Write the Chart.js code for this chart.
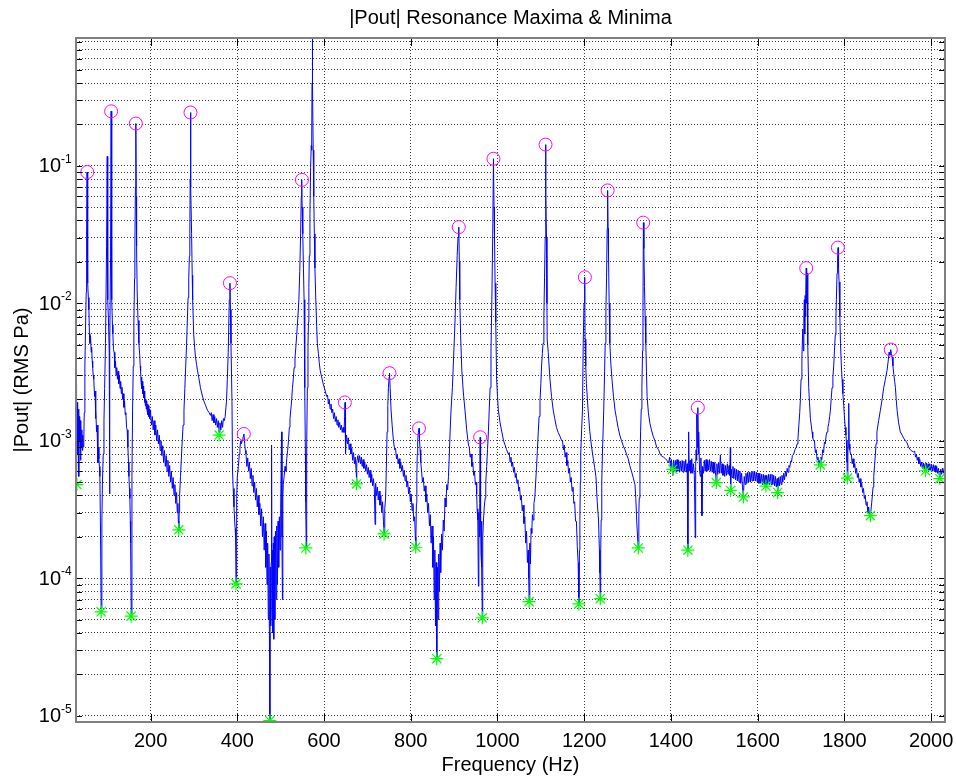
<!DOCTYPE html>
<html>
<head>
<meta charset="utf-8">
<title>|Pout| Resonance Maxima &amp; Minima</title>
<script src="https://cdn.jsdelivr.net/npm/chart.js@4.4.1/dist/chart.umd.min.js"></script>
<style>
  html, body { margin: 0; padding: 0; background: #fff; }
  #wrap { width: 956px; height: 778px; position: relative; }
</style>
</head>
<body>
<div id="wrap"><canvas id="pout-chart"></canvas></div>
<script>
// |Pout| spectrum: [frequency Hz, magnitude RMS Pa]
const poutTrace = [
  [27.5,5.0e-3],[28,1.5e-3],[28.5,2.6e-3],[29,9e-4],[29.5,2.2e-3],[30,5.5e-4],[30.5,1.9e-3],[31,1.0e-3],[31.5,1.8e-3],[32,8e-4],
  [32.5,1.6e-3],[33,1.1e-3],[34,1.7e-3],[34.7,5.5e-4],[35.5,1.5e-3],[36.5,1.0e-3],[37.5,1.4e-3],[38.5,7.2e-4],[39.5,1.3e-3],[40.5,9e-4],
  [41.5,1.2e-3],[42.5,8.5e-4],[43.5,1.1e-3],[44.5,9e-4],[46,1.0e-3],[47,1.6e-3],[48.5,3.5e-3],[50,6.5e-3],[51.5,0.012],[52.5,0.03],
  [53.5,0.09],[54.5,0.035],[55.4,0.014],[56.5,0.011],[57.7,9e-3],[59,6e-3],[60,5.1e-3],[61.5,5.8e-3],[63,4.4e-3],[64,4.8e-3],
  [65.4,3.8e-3],[66.5,3.4e-3],[67.7,3.0e-3],[69,2.8e-3],[70.8,2.1e-3],[72,2.3e-3],[73,1.45e-3],[74,1.7e-3],[75.4,1.16e-3],[76.5,1.3e-3],
  [78.5,6.9e-4],[79.5,9e-4],[80.8,7.4e-4],[82,6.5e-4],[83,5.5e-4],[84.6,2.1e-4],[86,6e-5],[87.7,2.6e-4],[89,5e-4],[90.8,8e-4],
  [92.5,1.4e-3],[94,2.4e-3],[96,5.1e-3],[98.5,0.026],[100,0.117],[100.8,0.03],[101.6,0.0106],[103,7.3e-3],[104.6,4.4e-3],[105.4,4.1e-4],
  [106.2,5e-3],[107.7,0.022],[109,0.25],[110,0.04],[110.8,0.0106],[112,7e-3],
  [113,6.0e-3],[114.5,4.6e-3],[116,4.4e-3],[117.5,3.4e-3],[119,3.8e-3],[120.5,3.0e-3],[122,3.4e-3],[123.5,2.8e-3],[125,3.2e-3],[126.5,2.6e-3],
  [128,3.0e-3],[129.5,2.4e-3],[131,2.7e-3],[132.5,2.2e-3],[134,2.45e-3],[135.5,2.0e-3],[137,2.2e-3],[138.5,1.75e-3],[140,1.95e-3],[141.5,1.55e-3],
  [143,1.6e-3],[144.6,1.25e-3],[146,1.2e-3],[147.7,9e-4],[149,7e-4],[150,5.5e-4],[151.2,4.5e-4],[152.3,3.8e-4],[153.2,2.6e-4],[154,1.8e-4],
  [155.4,5.5e-5],[157,5.5e-4],[158.5,1.67e-3],[160,3.5e-3],[161.5,7.3e-3],[163,0.015],[163.8,0.026],[165,0.07],[166,0.203],[167,0.06],
  [167.7,0.026],[169,0.0123],[171,7.5e-3],[173,5.1e-3],[175,4.2e-3],[176,3.5e-3],[177,3.2e-3],[178,2.7e-3],[179,2.9e-3],[180,2.4e-3],
  [181,2.7e-3],[182,2.2e-3],[183,2.5e-3],[184,2.05e-3],[185,2.3e-3],[186,1.9e-3],[187,2.15e-3],[188,1.8e-3],[189,2.0e-3],[190,1.7e-3],
  [191,1.95e-3],[192,1.65e-3],[193,1.85e-3],[194,1.55e-3],[195,1.8e-3],[196,1.5e-3],[197,1.7e-3],[198,1.45e-3],[199,1.65e-3],
  [200,1.6e-3],[202,1.3e-3],[204,1.5e-3],[206,1.2e-3],[208,1.4e-3],[210,1.1e-3],[212,1.3e-3],[214,1.0e-3],[216,1.2e-3],[218,9.5e-4],
  [220,1.1e-3],[222,8.5e-4],[224,1.0e-3],[226,7.8e-4],[228,9.2e-4],[230,7.0e-4],[232,8.5e-4],[234,6.5e-4],[236,7.8e-4],[238,6.0e-4],
  [240,7.2e-4],[242,5.5e-4],[244,6.6e-4],[246,5.0e-4],[248,6.0e-4],[250,4.5e-4],[252,5.4e-4],[254,4.0e-4],[256,4.8e-4],[258,3.5e-4],
  [260,4.2e-4],[261.5,3.0e-4],[263,3.5e-4],[264,2.6e-4],[265,2.3e-4],[266,3.0e-4],[267,4.0e-4],
  [269,5.5e-4],[271,7.5e-4],[273,1.0e-3],[275,1.3e-3],[277,1.67e-3],[279,2.4e-3],[281,3.5e-3],[283,5.0e-3],[284.6,7.3e-3],[286.5,0.011],
  [288,0.0153],[289.5,0.022],[290.5,0.032],[291.3,0.08],[292,0.244],[293,0.07],[294.6,0.032],[296,0.016],[297,0.0106],[299.5,5.9e-3],
  [301.5,4.8e-3],[303.5,4.06e-3],[306,3.6e-3],[308,3.26e-3],[311,2.9e-3],[315,2.43e-3],[319,2.15e-3],[323,1.94e-3],[327,1.8e-3],[331,1.67e-3],
  [335,1.6e-3],[338,1.53e-3],
  [340,1.6e-3],[342,1.4e-3],[344,1.55e-3],[346,1.35e-3],[348,1.5e-3],[350,1.3e-3],[352,1.45e-3],[354,1.25e-3],[356,1.4e-3],[358,1.15e-3],
  [360,1.35e-3],[362,1.2e-3],[364,1.4e-3],[366,1.25e-3],[368,1.45e-3],[370,1.4e-3],[372,1.5e-3],[375,1.94e-3],[377,2.8e-3],[379,4.4e-3],
  [381.5,0.0106],[383,0.014],[384.2,0.009],[385.4,5.1e-3],[387.7,1.94e-3],[389,6e-4],[390.5,4.5e-4],[392.3,3.3e-4],[393.8,2.65e-4],[395,2.3e-4],
  [396,1.97e-4],[397,9.1e-5],[398.5,3.8e-4],[400,5.5e-4],[402.5,6.5e-4],[404.6,8e-4],[406,8.8e-4],[407.7,1e-3],[409.5,9.5e-4],[411,1.0e-3],
  [413,1.05e-3],[415.4,1.12e-3],[417,9.5e-4],[418.5,8.5e-4],
  [420,8e-4],[422,6.5e-4],[424,7.5e-4],[426,6e-4],[428,7e-4],[430,5.3e-4],[432,6.3e-4],[434,4.7e-4],[436,5.6e-4],[438,4.2e-4],
  [440,5e-4],[442,3.7e-4],[444,4.5e-4],[446,3.3e-4],[448,4.0e-4],[450,2.9e-4],[452,3.5e-4],[454,2.4e-4],[456,3.2e-4],[458,2.0e-4],
  [460,2.8e-4],[462,1.6e-4],[464,2.5e-4],[465.5,1.2e-4],[467,2.2e-4],[468.5,9e-5],[470,1.8e-4],[471.5,5e-5],[473,1.5e-4],[474,4e-5],
  [475,9.2e-6],[476,1.2e-4],[477,4.5e-5],[478,1.3e-4],[479,9.3e-4],[480,6e-5],[481,1.6e-4],[482,4e-5],[483,1.8e-4],[484,3.6e-5],
  [485,2.0e-4],[486.5,5e-5],[488,2.2e-4],[489.5,7e-5],[491,2.4e-4],[492.5,9e-5],[494,2.6e-4],[495.5,1.2e-4],[497,2.8e-4],[498.5,1.6e-4],
  [500,3.2e-4],[502,1.16e-3],[503,2.0e-4],[504,7e-5],[505,4e-4],[506,4.8e-4],[508,5.5e-4],[510,6.5e-4],[512,6e-4],[514,7.4e-4],
  [516,8.5e-4],[518,1.0e-3],[520,1.25e-3],[521.5,1.45e-3],[523.5,1.7e-3],[525.5,2.0e-3],[527,2.4e-3],[529,2.8e-3],[531,3.4e-3],[533,4.0e-3],
  [535,4.8e-3],[537,5.9e-3],[539.5,7.8e-3],[542,0.0106],[544,0.017],[546,0.032],[547.5,0.06],[548.5,0.079],[549.5,0.05],[551,0.032],
  [552.5,0.018],[554,0.0106],[555,5e-3],[556,2.43e-3],[557,8e-4],[557.6,3.6e-4],[559,1.66e-4],[560,9e-4],[561.5,2.43e-3],[563,4.8e-3],
  [564,7.3e-3],[565,0.013],[566,0.0222],[567.5,0.045],[569,0.097],[570.5,0.14],[571.5,0.13],[572.3,0.4],[573,1.5],[573.7,0.4],
  [575,0.13],[576.3,0.06],[577.6,0.032],[579,0.018],[581,0.0106],[583,6.8e-3],[584.6,5.1e-3],[587,4.3e-3],[589,3.7e-3],[591,3.26e-3],
  [594,2.95e-3],[598,2.6e-3],[602,2.35e-3],[606,2.1e-3],
  [608,2.15e-3],[610,1.85e-3],[612,2.0e-3],[614,1.7e-3],[616,1.85e-3],[618,1.6e-3],[620,1.7e-3],[622,1.45e-3],[624,1.6e-3],[626,1.38e-3],
  [628,1.5e-3],[630,1.3e-3],[632,1.42e-3],[634,1.25e-3],[636,1.36e-3],[638,1.2e-3],[640,1.3e-3],[642,1.15e-3],[644,1.25e-3],[646,1.15e-3],
  [647.5,1.5e-3],[648.4,1.9e-3],[649.2,1.2e-3],[650,8e-4],[651,1.1e-3],[652,1.08e-3],
  [654,9.5e-4],[656,1.05e-3],[658,8.6e-4],[660,9.5e-4],[662,8.0e-4],[664,8.8e-4],[666,7.2e-4],[668,8.2e-4],[670,6.8e-4],[672,7.6e-4],
  [674,6.0e-4],[675,4.85e-4],[676,7.0e-4],[678,7.8e-4],[680,7.0e-4],[682,7.8e-4],[684,6.8e-4],[686,7.6e-4],[688,6.5e-4],[690,7.3e-4],
  [692,6.3e-4],[694,7.0e-4],[696,6.0e-4],[698,6.7e-4],[700,5.7e-4],[702,6.4e-4],[704,5.4e-4],[706,6.1e-4],[708,5.0e-4],[710,5.7e-4],
  [712,4.7e-4],[714,5.3e-4],[716,4.4e-4],[717.7,2.46e-4],[719,4.9e-4],[721,4.0e-4],[723,4.6e-4],[725,3.7e-4],[727,4.3e-4],[729,3.4e-4],
  [731,4.0e-4],[733,3.0e-4],[735,3.6e-4],[737,2.6e-4],[738.5,2.1e-4],[740,3.2e-4],[742,3.83e-4],[743.5,6e-4],[745.4,1.16e-3],[747,1.8e-3],
  [748.5,2.43e-3],[750,2.9e-3],[751,3.1e-3],[752.5,2.4e-3],[754.6,1.67e-3],[757,1.3e-3],[760,1.0e-3],[763,8.6e-4],
  [765,8.8e-4],[767,7.4e-4],[769,8.0e-4],[771,6.8e-4],[773,7.4e-4],[775,6.3e-4],[777,7.0e-4],[779,6.0e-4],[781,6.6e-4],[783,5.5e-4],
  [785,6.1e-4],[787,5.1e-4],[789,5.6e-4],[791,4.6e-4],[793,5.1e-4],[795,4.1e-4],[797,4.6e-4],[799,3.6e-4],[801,4.1e-4],[803,3.1e-4],
  [805,3.5e-4],[807,2.6e-4],[809,2.8e-4],[810.5,2.0e-4],[811.5,1.68e-4],[813,3.5e-4],[814,5.5e-4],[815,8e-4],[816,1.0e-3],[817.5,1.15e-3],
  [819,1.23e-3],[820,1.05e-3],[821.5,8.6e-4],[823,7e-4],
  [825,6.0e-4],[827,5.0e-4],[829,5.4e-4],[831,4.3e-4],[833,4.7e-4],[835,3.6e-4],[837,4.1e-4],[839,3.0e-4],[841,3.5e-4],[843,2.4e-4],
  [845,2.9e-4],[847,1.8e-4],[849,2.4e-4],[851,1.2e-4],[852.5,2.0e-4],[854,7e-5],[855.5,1.6e-4],[857,4.5e-5],[858.5,1.3e-4],[860,2.6e-5],
  [861.5,1.2e-4],[863,5e-5],[864.5,1.5e-4],[866,8e-5],[867.7,1.8e-4],[869,1.1e-4],[871,2.1e-4],[873,1.6e-4],[875,2.65e-4],[877,2.2e-4],
  [879,3.83e-4],[881,3.3e-4],[883,4.8e-4],[885,4.4e-4],[887,5.5e-4],[889,8.0e-4],[890.7,1.16e-3],[893,1.7e-3],[896,2.43e-3],[899,4.2e-3],
  [902,7.3e-3],[904.5,0.013],[907,0.0222],[909,0.03],[910.7,0.0358],[912,0.02],[913,0.0106],[915,5.8e-3],[917.7,3.26e-3],[921,2.3e-3],
  [925,1.67e-3],[929,1.2e-3],[933,9.3e-4],
  [935,9.0e-4],[937,7.6e-4],[939,8.0e-4],[941,6.5e-4],[943,7.0e-4],[945,5.6e-4],[947,6.0e-4],[949,4.8e-4],[951,5.0e-4],[952,4.1e-4],
  [953,3.2e-4],[954.6,2.65e-4],[956,8.75e-5],[957,3.0e-4],[958,2.0e-4],[959,3.5e-4],[960,1.06e-3],[961,2.5e-4],[962,1.5e-4],[963,2.6e-4],
  [964,1.2e-4],[965,5.15e-5],[966,2.0e-4],[967.7,2.65e-4],[969.5,3.3e-4],[971.5,3.83e-4],[973,5.0e-4],[975,6.5e-4],[977,8.6e-4],[979,1.16e-3],
  [981,1.7e-3],[983,2.43e-3],[985,4.5e-3],[987,0.0106],[989,0.032],[990.7,0.1125],[992,0.05],[993,0.032],[994.5,0.014],[996,7.3e-3],
  [998,2.8e-3],[1000,2.1e-3],[1002,1.67e-3],[1006,1.35e-3],[1010,1.16e-3],[1014,1.0e-3],[1017.6,9.3e-4],[1021,8.6e-4],[1025,8e-4],
  [1027,8.2e-4],[1029,7.0e-4],[1031,7.6e-4],[1033,6.5e-4],[1035,7.0e-4],[1037,5.9e-4],[1039,6.4e-4],[1041,5.4e-4],[1043,5.8e-4],[1045,4.9e-4],
  [1047,5.2e-4],[1049,4.3e-4],[1051,4.6e-4],[1053,3.7e-4],[1055,4.0e-4],[1057,3.1e-4],[1059,3.4e-4],[1061,2.5e-4],[1063,2.8e-4],[1065,1.8e-4],
  [1067,2.2e-4],[1069,1.3e-4],[1071,1.6e-4],[1072,1.0e-4],[1073,6.76e-5],[1074.5,1.8e-4],[1076,1.27e-4],[1077.5,2.3e-4],[1079,2.12e-4],[1080.5,2.9e-4],
  [1082,2.65e-4],[1084,3.5e-4],[1086,3.83e-4],[1088,5.0e-4],[1090,6.4e-4],[1092,8.5e-4],[1094,1.16e-3],[1096,1.5e-3],[1098,1.94e-3],[1100,2.6e-3],
  [1101.6,3.5e-3],[1103.5,4.3e-3],[1105,5.1e-3],[1107,8e-3],[1108.5,0.0153],[1110,0.0298],[1110.8,0.1426],[1111.8,0.06],[1113,0.0298],[1114,0.01],
  [1114.6,5.5e-3],[1117,4.4e-3],[1121,2.8e-3],[1124.6,2.1e-3],[1128.5,1.67e-3],[1132,1.45e-3],[1136,1.25e-3],[1140,1.15e-3],[1144,1.08e-3],[1148,1.0e-3],
  [1150,1.0e-3],[1152,8.6e-4],[1154,9.3e-4],[1156,7.6e-4],[1158,8.2e-4],[1160,6.6e-4],[1162,7.2e-4],[1164,5.8e-4],[1166,6.3e-4],[1168,5.0e-4],
  [1170,5.4e-4],[1172,4.3e-4],[1174,4.6e-4],[1176,3.5e-4],[1178,3.6e-4],[1180,2.6e-4],[1182,2.6e-4],[1184,1.7e-4],[1186,1.3e-4],[1187.7,6.5e-5],
  [1189,1.6e-4],[1190,2.65e-4],[1191,5e-4],[1192,8e-4],[1194,1.2e-3],[1196,1.67e-3],[1197.7,5.1e-3],[1199.5,0.01],[1200.8,0.0153],[1201.5,0.01546],
  [1202,5.5e-3],[1203.5,3.5e-3],[1205,2.6e-3],[1209,1.67e-3],[1213,1.16e-3],[1217,9e-4],[1221,7.4e-4],[1224,6.4e-4],[1227,5.5e-4],[1230,3.6e-4],
  [1233,2.65e-4],[1235,1.6e-4],[1236,1.09e-4],[1237,7.1e-5],[1238,1.5e-4],[1239,2.65e-4],[1240.5,5e-4],[1242,8e-4],[1245,1.67e-3],[1247,3.2e-3],
  [1248.4,5.1e-3],[1250,9e-3],[1251.5,0.0153],[1253,0.035],[1254,0.0662],[1255,0.035],[1256,0.0222],[1257.5,0.01],[1259,5.1e-3],[1261.5,3.6e-3],
  [1264,2.8e-3],[1267.5,2.1e-3],[1271,1.67e-3],[1274.5,1.45e-3],[1278,1.25e-3],[1282,1.1e-3],[1286,1.0e-3],[1290,9.2e-4],[1294,8.6e-4],[1298,7.9e-4],
  [1301.5,7.4e-4],[1305,6.6e-4],[1309,6e-4],[1313,5.4e-4],[1317,4.8e-4],[1319,3.8e-4],[1321,2.65e-4],[1323,2.0e-4],[1324.6,1.66e-4],[1326,3.0e-4],
  [1327,3.83e-4],[1328.5,7e-4],[1330,1.16e-3],[1331.5,1.7e-3],[1333,2.43e-3],[1334.5,4.5e-3],[1335.5,9.2e-3],[1336.5,0.0386],[1337.6,0.025],[1339,0.0132],
  [1340.5,8e-3],[1342,5.1e-3],[1343.5,3.2e-3],[1345,2.1e-3],[1348,1.6e-3],[1351.5,1.34e-3],[1355,1.2e-3],[1359,1.08e-3],[1363,1.0e-3],[1367,9.0e-4],
  [1371.5,8.6e-4],[1375,8e-4],[1379,7.7e-4],[1383,7.6e-4],[1387,7.4e-4],[1391,7.2e-4],[1394.6,6.9e-4],
  [1397,7.6e-4],[1399,6.3e-4],[1401,7.3e-4],[1403,6.0e-4],[1404,5.6e-4],[1406,7.2e-4],[1408,6.0e-4],[1410,7.2e-4],[1412,6.0e-4],[1414,7.3e-4],
  [1416,6.0e-4],[1418,7.2e-4],[1420,5.9e-4],[1422,7.1e-4],[1424,6.0e-4],[1426,7.2e-4],[1428,5.9e-4],[1430,7.1e-4],[1432,6.0e-4],[1434,7.3e-4],
  [1436,5.9e-4],[1437.5,6.8e-4],[1439,1.6e-4],[1440,7e-4],[1440.8,1.16e-3],[1442,6.0e-4],[1444,7.2e-4],[1446,5.8e-4],[1448,7.4e-4],[1450,5.8e-4],
  [1452,6.8e-4],[1454,5.6e-4],[1456,1.97e-4],[1457,6.5e-4],[1458,8.6e-4],[1459,7.2e-4],[1460,1.56e-3],[1461,9e-4],[1462,1.74e-3],[1463,8e-4],
  [1464,1.16e-3],[1466,6.0e-4],[1467.7,5.5e-4],[1469,7.5e-4],[1470,6.0e-4],[1471.5,2.85e-4],[1473,6.5e-4],[1475,5.8e-4],[1477,7.2e-4],[1479,6.0e-4],
  [1481,7.3e-4],[1483,6.0e-4],[1485,7.2e-4],[1487,6.1e-4],[1489,7.3e-4],[1491,6.0e-4],[1493,7.1e-4],[1495,5.9e-4],[1497,7.0e-4],[1499,5.8e-4],
  [1501,6.9e-4],[1503,5.6e-4],[1504.6,4.96e-4],[1506,6.8e-4],[1508,5.7e-4],[1510,6.9e-4],[1512,5.8e-4],[1514,7.9e-4],[1516,5.8e-4],[1518,6.8e-4],
  [1520,5.6e-4],[1522,6.7e-4],[1524,5.5e-4],[1526,6.6e-4],[1528,5.6e-4],[1530,6.8e-4],[1532,5.7e-4],[1534,6.6e-4],[1535.5,5.6e-4],[1537,9e-4],
  [1537.6,4.35e-4],[1539,6.2e-4],[1541,5.4e-4],[1543,6.5e-4],[1545,5.3e-4],[1547,6.3e-4],[1549,5.2e-4],[1551,6.2e-4],[1553,5.1e-4],[1555,6.1e-4],
  [1557,5.0e-4],[1559,6.0e-4],[1561,4.9e-4],[1563,5.8e-4],[1565,4.6e-4],[1567,3.9e-4],[1569,5.5e-4],[1571,4.8e-4],[1573,5.8e-4],[1575,4.9e-4],
  [1577,5.9e-4],[1579,5.0e-4],[1581,5.9e-4],[1583,5.0e-4],[1585,5.9e-4],[1587,5.1e-4],[1589,6.0e-4],[1591,5.1e-4],[1593,6.0e-4],[1595,5.1e-4],
  [1597,5.9e-4],[1599,5.0e-4],[1601,5.8e-4],[1603,4.9e-4],[1605,5.8e-4],[1607,4.9e-4],[1609,5.7e-4],[1611,4.8e-4],[1613,5.7e-4],[1615,4.8e-4],
  [1617,5.6e-4],[1619,4.7e-4],[1621,5.6e-4],[1623,4.8e-4],[1625,5.7e-4],[1627,4.8e-4],[1629,5.7e-4],[1631,4.8e-4],[1633,5.7e-4],[1635,4.8e-4],
  [1637,5.6e-4],[1639,4.7e-4],[1641,5.5e-4],[1643,4.6e-4],[1645,5.3e-4],[1646,4.2e-4],[1648,5.4e-4],[1650,4.7e-4],[1652,5.5e-4],[1654,4.8e-4],
  [1656,5.6e-4],[1658,5.0e-4],[1660,5.8e-4],[1662,5.2e-4],[1664,6.0e-4],[1666,5.5e-4],[1668,6.3e-4],[1670,5.9e-4],[1672,6.6e-4],[1674,6.4e-4],
  [1676,7.1e-4],[1678,7.0e-4],[1680,7.8e-4],[1683,8.0e-4],[1686,8.6e-4],[1689,9.0e-4],[1691,9.5e-4],[1693,1.05e-3],[1695,1.3e-3],[1697,1.6e-3],
  [1698.5,2.0e-3],[1700,2.8e-3],[1702,4.06e-3],[1704,6.5e-3],[1705.5,4.5e-3],[1706.5,8e-3],[1707.6,0.0106],[1708.5,6e-3],[1709.5,0.0114],[1710.5,0.008],
  [1711.3,0.0123],[1712,0.018],[1713,0.01],[1714,0.0165],[1715,6.5e-3],[1716,5e-3],[1717.7,2.43e-3],[1719.5,1.9e-3],[1721.6,1.45e-3],[1723.5,1.3e-3],
  [1725.4,1.16e-3],[1727,1.05e-3],[1729,1e-3],
  [1731,1.0e-3],[1733,8.2e-4],[1735,8.6e-4],[1737,7.3e-4],[1739,7.6e-4],[1741,6.6e-4],[1743,7.2e-4],[1744.6,6.6e-4],[1746,7.6e-4],[1748,7.3e-4],
  [1750,8.6e-4],[1752,8.2e-4],[1754,9.8e-4],[1756,9.5e-4],[1758,1.1e-3],[1760,1.16e-3],[1762,1.25e-3],[1764,1.34e-3],[1766,1.5e-3],[1767.7,1.67e-3],
  [1769.5,2.0e-3],[1771.5,2.43e-3],[1773.5,2.9e-3],[1775.4,3.5e-3],[1777,4.5e-3],[1779,5.9e-3],[1780.5,8e-3],[1781.5,0.0106],[1783,0.0165],[1784.3,0.021],
  [1785.4,0.0254],[1786.5,0.018],[1787.7,0.0143],[1789.5,8e-3],[1791,5.1e-3],[1793,3.5e-3],[1794.6,2.8e-3],[1796.5,2.2e-3],[1798.5,1.8e-3],[1800,1.5e-3],
  [1802,1.25e-3],[1803.5,1.1e-3],[1804.6,1e-3],[1806,7e-4],[1807,5.35e-4],[1808,8.5e-4],[1809,9e-4],[1810,1.87e-3],[1811,9.5e-4],[1812.5,8.6e-4],
  [1814,8e-4],
  [1816,8.0e-4],[1818,6.8e-4],[1820,7.4e-4],[1822,6.4e-4],[1824,6.8e-4],[1826,5.8e-4],[1828,6.3e-4],[1830,5.4e-4],[1832,5.8e-4],[1834,5.0e-4],
  [1836,5.3e-4],[1838,4.6e-4],[1840,4.9e-4],[1842,4.2e-4],[1844,4.5e-4],[1846,3.8e-4],[1848,4.0e-4],[1850,3.4e-4],[1852,3.6e-4],[1854,3.0e-4],
  [1856,3.3e-4],[1858,2.8e-4],[1860,2.85e-4],[1862,3.3e-4],[1864,3.83e-4],[1866,4.6e-4],[1867.7,5.5e-4],[1869.5,6.6e-4],[1871.5,8e-4],[1873,9.5e-4],
  [1875,1.16e-3],[1879,1.4e-3],[1883,1.67e-3],[1887,2.0e-3],[1890.7,2.43e-3],[1894.5,2.8e-3],[1898.4,3.26e-3],[1901,3.8e-3],[1903,4.4e-3],[1905,4.2e-3],
  [1907,4.6e-3],[1908.5,4.3e-3],[1910,4.06e-3],[1912,3.5e-3],[1914,3.03e-3],[1916,2.7e-3],[1917.7,2.43e-3],[1919.5,2.0e-3],[1921.5,1.67e-3],[1925,1.35e-3],
  [1929,1.16e-3],[1933,1.1e-3],[1937,1.04e-3],[1941,1.0e-3],[1944.6,9.64e-4],[1948,9e-4],[1952,8.6e-4],[1956,8.4e-4],[1960,8.3e-4],
  [1962,8.4e-4],[1964,7.6e-4],[1966,8.0e-4],[1968,7.2e-4],[1970,7.6e-4],[1972,6.8e-4],[1974,7.3e-4],[1976,6.5e-4],[1978,7.0e-4],[1980,6.3e-4],
  [1982,6.9e-4],[1984,6.2e-4],[1986,6.8e-4],[1987,6.05e-4],[1989,6.9e-4],[1991,6.2e-4],[1993,6.8e-4],[1995,6.1e-4],[1997,6.8e-4],[1999,6.1e-4],
  [2001,6.7e-4],[2003,6.0e-4],[2005,6.7e-4],[2007,6.0e-4],[2009,6.6e-4],[2011,5.9e-4],[2013,6.5e-4],[2015,5.8e-4],[2017,6.3e-4],[2019,5.5e-4],
  [2020,5.3e-4],[2022,6.2e-4],[2024,5.7e-4],[2026,6.3e-4],[2028,5.8e-4],[2030,6.3e-4],[2032,6.0e-4]
];

// resonance maxima (magenta circles)
const maxFreq = [54, 109, 166, 292, 383, 415, 549, 648, 751, 819, 910.7, 960, 990.7, 1110.8, 1201.5, 1254, 1336, 1462, 1712, 1785, 1907];
const maxPout = [0.09, 0.249, 0.203, 0.244, 0.014, 1.12e-3, 0.079, 1.9e-3, 3.1e-3, 1.23e-3, 0.0358, 1.06e-3, 0.1125, 0.1426, 0.01546, 0.0662, 0.0386, 1.74e-3, 0.018, 0.0254, 4.6e-3];

// resonance minima (green stars)
const minFreq = [30, 86, 155, 265, 358, 397, 475, 558, 675, 738.5, 811.5, 860, 965, 1073, 1187.7, 1237, 1324.6, 1404, 1439, 1504.6, 1537.6, 1567, 1619, 1646, 1744.6, 1807, 1860, 1987, 2020];
const minPout = [4.8e-4, 5.7e-5, 5.3e-5, 2.25e-4, 1.1e-3, 9.1e-5, 9.2e-6, 1.66e-4, 4.85e-4, 2.1e-4, 1.68e-4, 2.6e-5, 5.15e-5, 6.76e-5, 6.5e-5, 7.1e-5, 1.66e-4, 6.2e-4, 1.6e-4, 4.96e-4, 4.35e-4, 3.9e-4, 4.68e-4, 4.2e-4, 6.67e-4, 5.35e-4, 2.85e-4, 6.05e-4, 5.3e-4];

const xTickValues = [200, 400, 600, 800, 1000, 1200, 1400, 1600, 1800, 2000];
const yLabelExponents = [-1, -2, -3, -4, -5];
const xLimits = [28, 2032];
const yLimits = [9e-6, 0.85];

const FONT = '"Liberation Sans", Arial, sans-serif';
const TEXT_SIZE = 20;

function buildLogGridValues() {
  const values = [];
  for (let e = -6; e <= 0; e++) {
    for (let m = 1; m <= 9; m++) {
      const v = m * Math.pow(10, e);
      if (v >= yLimits[0] && v <= yLimits[1]) values.push(v);
    }
  }
  return values;
}

const yGridValues = buildLogGridValues();

const matlabAxes = {
  id: 'matlabAxes',
  afterDraw(chart) {
    const { ctx, chartArea: a, scales } = chart;
    const x = scales.x;
    const y = scales.y;
    ctx.save();

    // inward tick marks on all four sides
    ctx.strokeStyle = '#000';
    ctx.lineWidth = 1;
    ctx.beginPath();
    xTickValues.forEach((v) => {
      const px = Math.round(x.getPixelForValue(v)) + 0.5;
      ctx.moveTo(px, a.bottom);
      ctx.lineTo(px, a.bottom - 8);
      ctx.moveTo(px, a.top);
      ctx.lineTo(px, a.top + 8);
    });
    yGridValues.forEach((v) => {
      const py = Math.round(y.getPixelForValue(v)) + 0.5;
      ctx.moveTo(a.left, py);
      ctx.lineTo(a.left + 6, py);
      ctx.moveTo(a.right, py);
      ctx.lineTo(a.right - 6, py);
    });
    ctx.stroke();

    // axes box
    ctx.strokeStyle = '#808080';
    ctx.lineWidth = 2;
    ctx.strokeRect(a.left, a.top, a.right - a.left, a.bottom - a.top);

    ctx.fillStyle = '#000';

    // x tick labels
    ctx.font = `${TEXT_SIZE}px ${FONT}`;
    ctx.textAlign = 'center';
    ctx.textBaseline = 'middle';
    xTickValues.forEach((v) => {
      ctx.fillText(String(v), x.getPixelForValue(v), a.bottom + 19);
    });

    // y tick labels as 10^n
    yLabelExponents.forEach((e) => {
      const py = y.getPixelForValue(Math.pow(10, e));
      ctx.font = `${TEXT_SIZE}px ${FONT}`;
      ctx.textAlign = 'right';
      ctx.textBaseline = 'middle';
      ctx.fillText('10', 61, py + 1);
      ctx.font = `12px ${FONT}`;
      ctx.textAlign = 'left';
      ctx.textBaseline = 'alphabetic';
      ctx.fillText(String(e), 61, py - 3);
    });

    // titles
    const midX = (a.left + a.right) / 2;
    ctx.font = `${TEXT_SIZE}px ${FONT}`;
    ctx.textAlign = 'center';
    ctx.textBaseline = 'middle';
    ctx.fillText('|Pout| Resonance Maxima & Minima', midX, 18);
    ctx.fillText('Frequency (Hz)', midX, 765);

    ctx.translate(22, (a.top + a.bottom) / 2);
    ctx.rotate(-Math.PI / 2);
    ctx.fillText('|Pout| (RMS Pa)', 0, 0);

    ctx.restore();
  },
};

function createDatasets() {
  return [
    {
      label: 'maxima',
      data: maxFreq.map((f, i) => ({ x: f, y: maxPout[i] })),
      showLine: false,
      pointStyle: 'circle',
      pointRadius: 6.5,
      pointBorderWidth: 1,
      pointBorderColor: 'rgb(255,0,255)',
      pointBackgroundColor: 'rgba(0,0,0,0)',
      order: 0,
    },
    {
      label: 'minima',
      data: minFreq.map((f, i) => ({ x: f, y: minPout[i] })),
      showLine: false,
      pointStyle: 'star',
      pointRadius: 6.5,
      pointBorderWidth: 1.2,
      pointBorderColor: 'rgb(0,255,0)',
      pointBackgroundColor: 'rgb(0,255,0)',
      order: 1,
    },
    {
      label: '|Pout|',
      data: poutTrace.map(([f, v]) => ({ x: f, y: v })),
      borderColor: 'rgb(0,0,255)',
      borderWidth: 1,
      pointRadius: 0,
      tension: 0,
      fill: false,
      order: 2,
    },
  ];
}

function createScales() {
  return {
    x: {
      type: 'linear',
      min: xLimits[0],
      max: xLimits[1],
      afterBuildTicks: (scale) => {
        scale.ticks = xTickValues.map((v) => ({ value: v }));
      },
      ticks: { display: false },
      grid: { color: 'rgba(0,0,0,0.75)', lineWidth: 1, drawTicks: false },
      border: { display: false, dash: [1, 2] },
    },
    y: {
      type: 'logarithmic',
      min: yLimits[0],
      max: yLimits[1],
      afterBuildTicks: (scale) => {
        scale.ticks = yGridValues.map((v) => ({ value: v }));
      },
      ticks: { display: false },
      grid: { color: 'rgba(0,0,0,0.75)', lineWidth: 1, drawTicks: false },
      border: { display: false, dash: [1, 2] },
    },
  };
}

const ctx = document.getElementById('pout-chart').getContext('2d');

new Chart(ctx, {
  type: 'line',
  data: { datasets: createDatasets() },
  options: {
    responsive: true,
    maintainAspectRatio: false,
    animation: false,
    devicePixelRatio: 1,
    events: [],
    layout: {
      autoPadding: false,
      padding: { left: 76, right: 11, top: 38, bottom: 56 },
    },
    plugins: {
      legend: { display: false },
      tooltip: { enabled: false },
      title: { display: false },
    },
    scales: createScales(),
  },
  plugins: [matlabAxes],
});
</script>
</body>
</html>
